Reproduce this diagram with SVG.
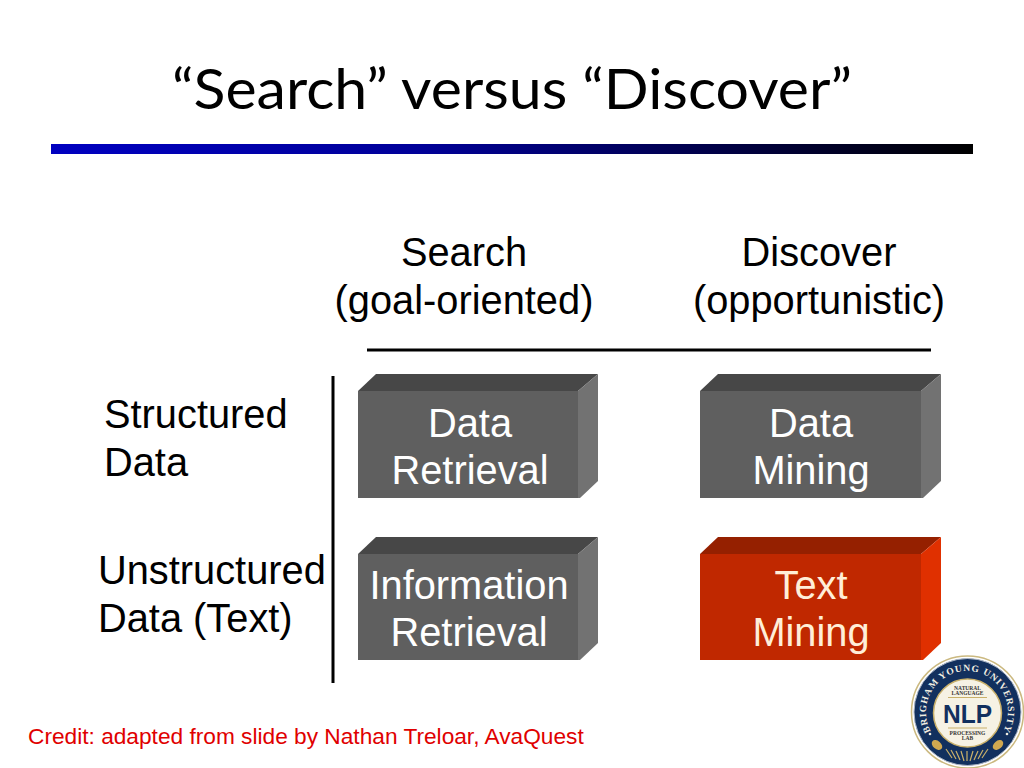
<svg xmlns="http://www.w3.org/2000/svg" width="1024" height="768" viewBox="0 0 1024 768">
<style>
text{font-family:"Liberation Sans",Arial,sans-serif}
.t{font-size:39.8px;fill:#000}
.m{text-anchor:middle}
.b{font-size:39.8px;fill:#fff;text-anchor:middle}
.front{fill:#5f5f5f}.top{fill:#474747}.side{fill:#727272}
.rfront{fill:#c02800}.rtop{fill:#952000}.rside{fill:#e03000}
.seal{font-family:"Liberation Serif",serif;font-weight:bold}
</style>
<defs>
<linearGradient id="rule" x1="0" x2="1" y1="0" y2="0"><stop offset="0" stop-color="#0000c0"/><stop offset="0.4" stop-color="#000098"/><stop offset="1" stop-color="#000000"/></linearGradient>
<path id="sealArc" d="M 931.5 732.5 A 41 41 0 1 1 1002.5 732.5"/>
</defs>
<rect width="1024" height="768" fill="#fff"/>
<text id="title" x="512" y="109" text-anchor="middle" style="font-family:Lato,'Open Sans',sans-serif;font-size:56px" fill="#000" textLength="680" lengthAdjust="spacingAndGlyphs">“Search” versus “Discover”</text>
<rect id="title-rule" x="51" y="144" width="922" height="10" fill="url(#rule)"/>
<g id="headers">
<text class="t m" x="464" y="266">Search</text>
<text class="t m" x="464" y="314">(goal-oriented)</text>
<text class="t m" x="819" y="266">Discover</text>
<text class="t m" x="819" y="314">(opportunistic)</text>
</g>
<g id="row-labels">
<text class="t" x="104" y="428">Structured</text>
<text class="t" x="104" y="476">Data</text>
<text class="t" x="98" y="584">Unstructured</text>
<text class="t" x="98" y="632">Data (Text)</text>
</g>
<g id="connectors" stroke="#000" stroke-width="3" fill="none">
<line x1="367" y1="350" x2="931" y2="350"/>
<line x1="333" y1="376" x2="333" y2="683"/>
</g>
<g id="data-retrieval">
<polygon class="top" points="358,391 376,374 598,374 578,391"/>
<polygon class="side" points="578,391 598,374 598,481 580,498 578,498"/>
<rect class="front" x="358" y="391" width="220" height="107"/>
<text class="b" x="470" y="437">Data</text><text class="b" x="470" y="484">Retrieval</text>
</g>
<g id="data-mining">
<polygon class="top" points="700,391 718,374 941,374 921,391"/>
<polygon class="side" points="921,391 941,374 941,481 923,498 921,498"/>
<rect class="front" x="700" y="391" width="221" height="107"/>
<text class="b" x="811" y="437">Data</text><text class="b" x="811" y="484">Mining</text>
</g>
<g id="information-retrieval">
<polygon class="top" points="358,554 376,537 598,537 578,554"/>
<polygon class="side" points="578,554 598,537 598,643 580,660 578,660"/>
<rect class="front" x="358" y="554" width="220" height="106"/>
<text class="b" x="469" y="599">Information</text><text class="b" x="469" y="646">Retrieval</text>
</g>
<g id="text-mining">
<polygon class="rtop" points="700,554 718,537 941,537 921,554"/>
<polygon class="rside" points="921,554 941,537 941,643 923,660 921,660"/>
<rect class="rfront" x="700" y="554" width="221" height="106"/>
<text class="b" x="811" y="599" style="fill:#ffeed8">Text</text><text class="b" x="811" y="646" style="fill:#ffeed8">Mining</text>
</g>
<text id="credit" x="28" y="744" style="font-size:22.7px" fill="#e00000">Credit: adapted from slide by Nathan Treloar, AvaQuest</text>
<g id="logo">
<circle cx="967.5" cy="712" r="56" fill="#fff" stroke="#cbb980" stroke-width="1.5"/>
<circle cx="967.5" cy="712" r="53.5" fill="#12305e" stroke="#a9b4c4" stroke-width="1"/>
<circle cx="967.5" cy="713" r="34" fill="#f6f2e4" stroke="#c9b06a" stroke-width="1.5"/>
<text class="seal" font-size="9.5" fill="#f2efe2" letter-spacing="0.9"><textPath href="#sealArc" startOffset="50%" text-anchor="middle">BRIGHAM YOUNG UNIVERSITY</textPath></text>
<text class="seal m" x="967.5" y="690" font-size="5.5" fill="#333">NATURAL</text>
<text class="seal m" x="967.5" y="695" font-size="5.5" fill="#333">LANGUAGE</text>
<line x1="948" y1="697.5" x2="987" y2="697.5" stroke="#c9b06a"/>
<text class="m" x="967.5" y="723" style="font-weight:bold;font-size:25px" fill="#12305e" textLength="49" lengthAdjust="spacingAndGlyphs">NLP</text>
<line x1="948" y1="728" x2="987" y2="728" stroke="#c9b06a"/>
<text class="seal m" x="967.5" y="735" font-size="5.5" fill="#333">PROCESSING</text>
<text class="seal m" x="967.5" y="740" font-size="5.5" fill="#333">LAB</text>
<circle cx="930" cy="734" r="1.3" fill="#f2efe2"/>
<circle cx="1007" cy="734" r="1.3" fill="#f2efe2"/>
<ellipse cx="937" cy="745" rx="6" ry="4" fill="#d0a850" transform="rotate(40 937 745)"/>
<ellipse cx="998" cy="745" rx="6" ry="4" fill="#d0a850" transform="rotate(-40 998 745)"/>
<path d="M946 749l6 9M951 750l5 9M956 751l4 9M961 751l3 10M967 751v10M973 751l-3 10M978 751l-4 9M983 750l-5 9M988 749l-6 9" stroke="#c9b06a" stroke-width="1.2" fill="none"/>
</g>
</svg>
